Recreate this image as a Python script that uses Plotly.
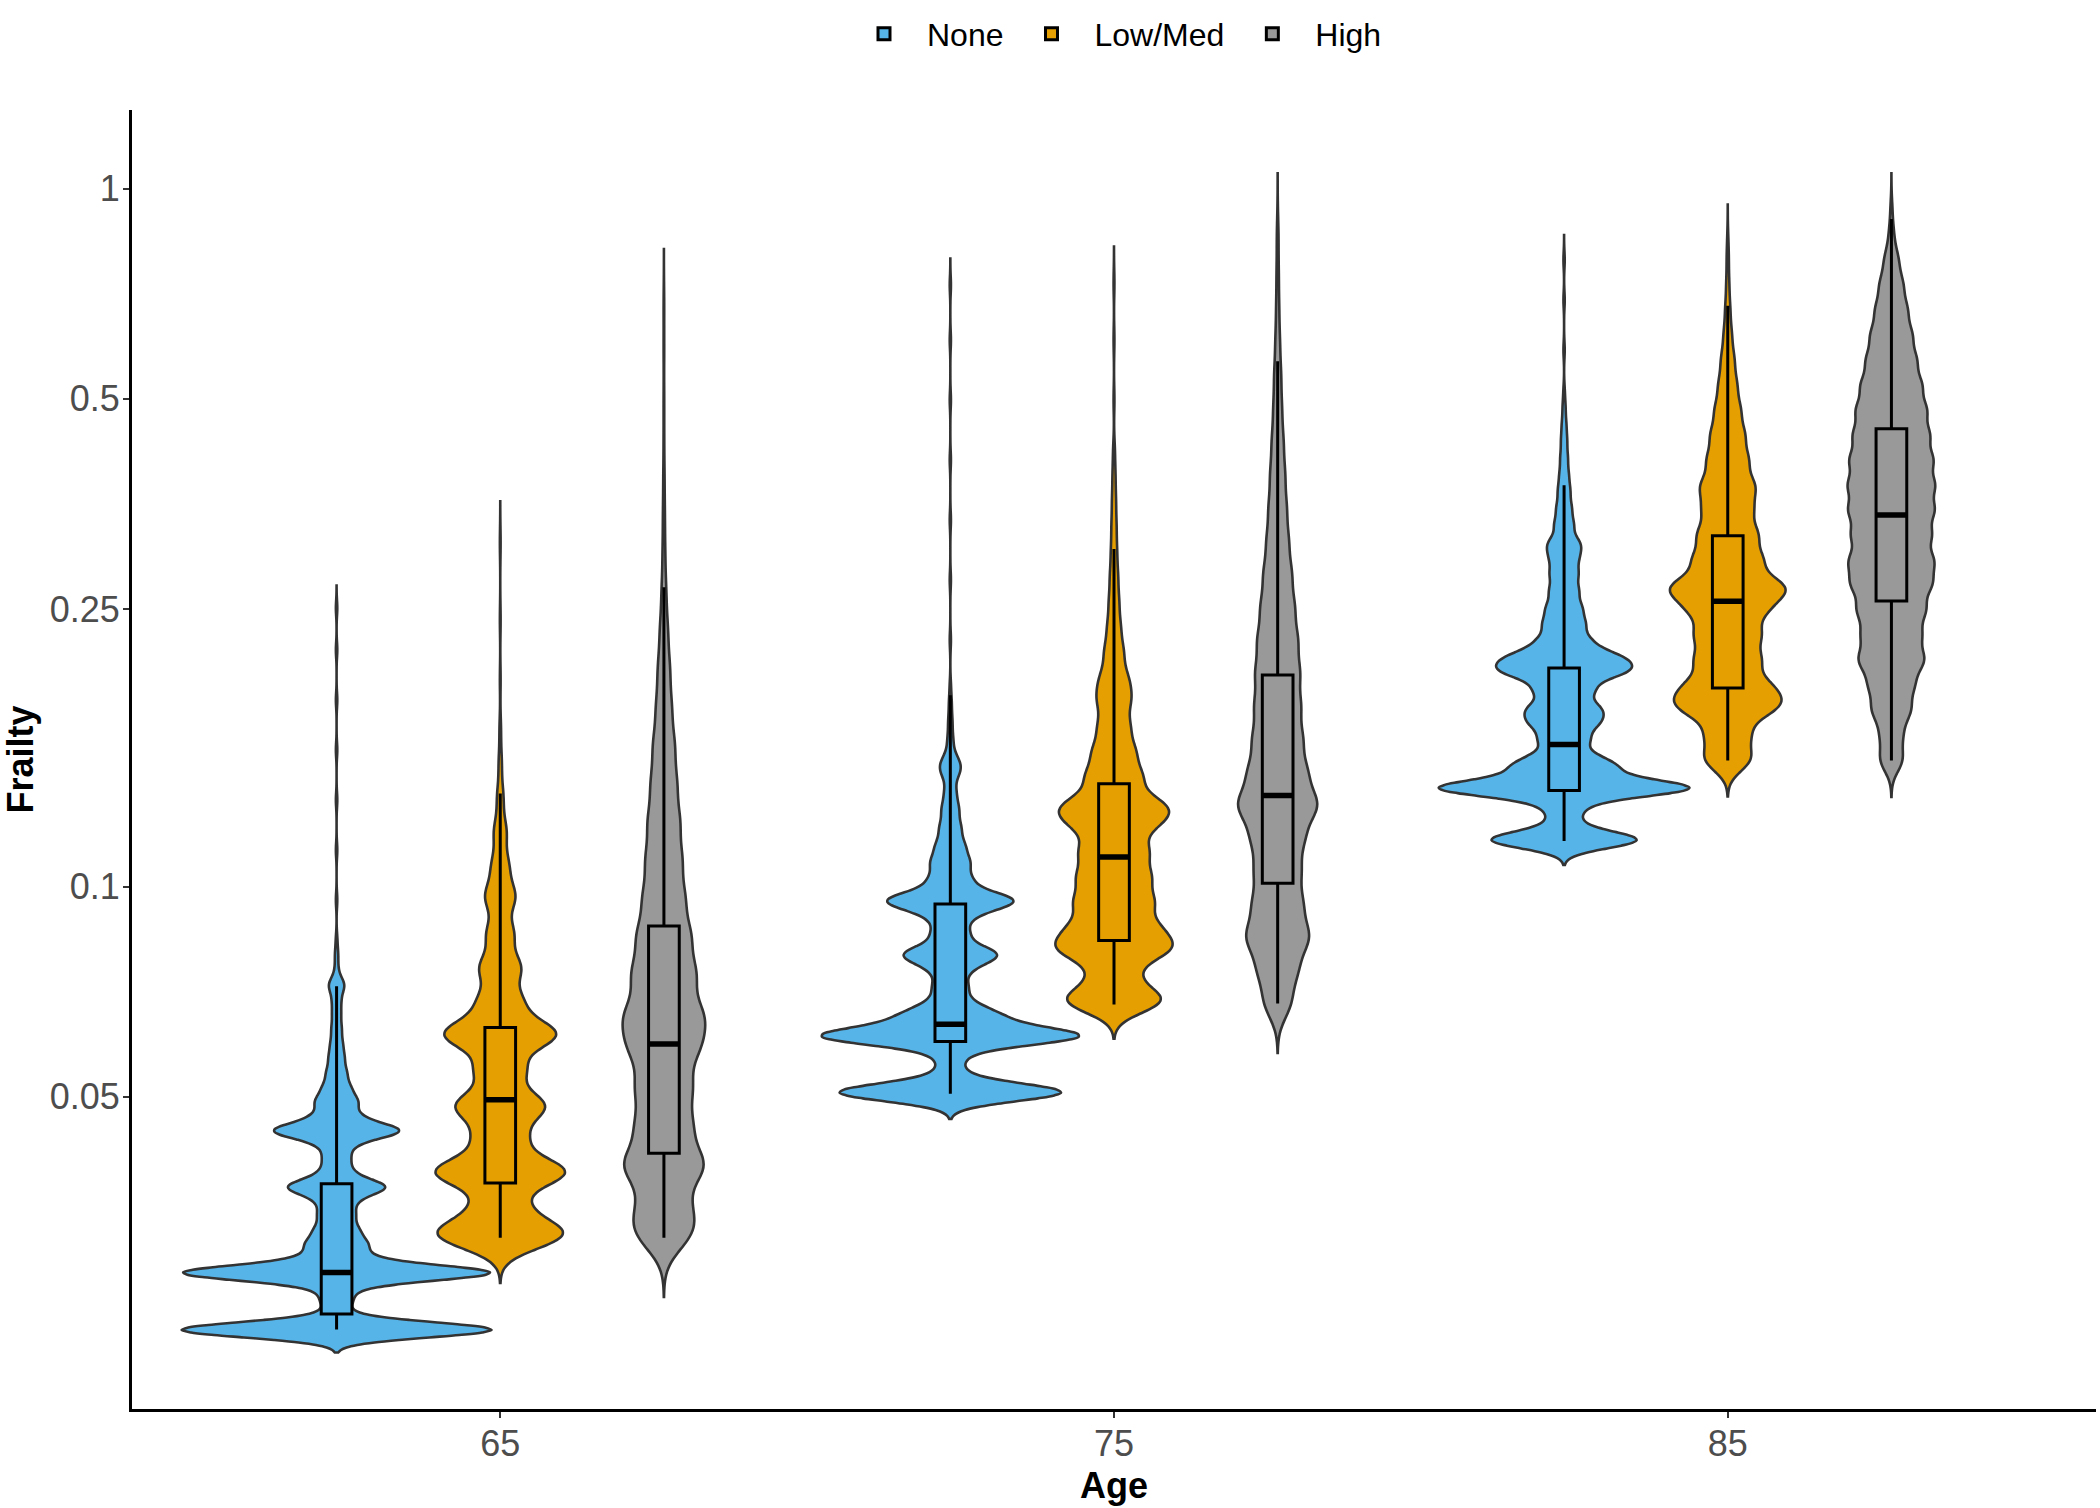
import numpy as np
import plotly.graph_objects as go

# ---------------- data ----------------
ages = [65, 75, 85]
groups = ["None", "Low/Med", "High"]

# Frailty levels (distinct values) and their frequencies, per group and age
none_65_frailty = [0.02316, 0.02425, 0.02548, 0.02669, 0.02795, 0.02936, 0.03074, 0.03220, 0.03383, 0.03543,
                   0.03711, 0.03887, 0.04070, 0.04263, 0.04465, 0.04675, 0.04912, 0.05145, 0.05406, 0.05680,
                   0.05948, 0.06250, 0.06567, 0.06878, 0.07228, 0.07596, 0.0798, 0.08385, 0.09568, 0.1128,
                   0.1331, 0.1570, 0.1851, 0.2184, 0.2507]
none_65_count = [219, 14, 18, 21, 211, 35, 35, 25, 21, 20,
                 63, 17, 15, 17, 82, 25, 25, 16, 12, 9,
                 7, 6, 5, 5, 10, 2, 2, 1, 1, 1,
                 1, 1, 1, 1, 1]

lowmed_65_frailty = [0.03116, 0.03189, 0.03485, 0.03899, 0.04362, 0.0485, 0.05460, 0.0614, 0.06833, 0.07645,
                     0.08553, 0.0966, 0.1070, 0.1197, 0.1340, 0.1499, 0.1676, 0.1978, 0.2411, 0.3108]
lowmed_65_count = [37, 128, 56, 169, 62, 114, 62, 145, 54, 52,
                   34, 38, 21, 16, 8, 4, 2, 1, 1, 1]

high_65_frailty = [0.03116, 0.03241, 0.03532, 0.0399, 0.04538, 0.05145, 0.05832, 0.0623, 0.06611, 0.07494,
                   0.08496, 0.09632, 0.1092, 0.1238, 0.1403, 0.1590, 0.1803, 0.2044, 0.2317, 0.2626,
                   0.2977, 0.3374, 0.3825, 0.4365, 0.4981, 0.5875, 0.6792]
high_65_count = [29, 59, 58, 124, 82, 82, 85, 37, 94, 94,
                 79, 61, 53, 47, 38, 32, 23, 18, 12, 7,
                 4, 3, 2, 1, 1, 1, 1]

none_75_frailty = [0.0507, 0.05370, 0.05698, 0.06028, 0.06107, 0.06397, 0.06525, 0.06789, 0.07179, 0.07620,
                   0.0800, 0.08553, 0.09076, 0.0955, 0.10186, 0.1081, 0.1143, 0.1213, 0.1288, 0.1362,
                   0.1445, 0.1489, 0.1533, 0.1622, 0.1722, 0.1827, 0.1932, 0.2256, 0.2750, 0.3352,
                   0.4087, 0.4981, 0.6071, 0.7281]
none_75_count = [182, 19, 19, 22, 184, 24, 51, 24, 24, 24,
                 70, 26, 27, 97, 30, 27, 20, 15, 12, 8,
                 7, 10, 5, 4, 3, 2, 1, 1, 1, 1,
                 1, 1, 1, 1]

lowmed_75_frailty = [0.0686, 0.07421, 0.08059, 0.08247, 0.08752, 0.09504, 0.1032, 0.1121, 0.1217, 0.1279,
                     0.1322, 0.1436, 0.1559, 0.1693, 0.1839, 0.1913, 0.1997, 0.2169, 0.2355, 0.2558,
                     0.2778, 0.3016, 0.3275, 0.3557, 0.3864, 0.4196, 0.4981, 0.6071, 0.7328]
lowmed_75_count = [104, 42, 67, 53, 77, 77, 71, 67, 58, 61,
                   56, 56, 42, 31, 27, 10, 23, 19, 13, 10,
                   8, 6, 5, 4, 3, 2, 1, 1, 1]

high_75_frailty = [0.06811, 0.07596, 0.08468, 0.09443, 0.1053, 0.1174, 0.1309, 0.1459, 0.1627, 0.1815,
                   0.2024, 0.2256, 0.2515, 0.2805, 0.3128, 0.3487, 0.3890, 0.4336, 0.4835, 0.5391,
                   0.6012, 0.6705, 0.7475, 0.8335, 0.8933]
high_75_count = [36, 51, 83, 63, 58, 66, 105, 74, 63, 58,
                 56, 51, 43, 36, 28, 23, 19, 15, 11, 9,
                 6, 4, 3, 2, 1]

none_85_frailty = [0.1166, 0.1233, 0.1301, 0.1383, 0.1455, 0.1484, 0.1533, 0.1622, 0.1710, 0.1762,
                   0.1809, 0.1913, 0.2017, 0.2050, 0.2133, 0.2249, 0.2378, 0.2507, 0.2652, 0.2805,
                   0.2957, 0.3100, 0.3298, 0.3487, 0.3689, 0.3890, 0.4113, 0.4351, 0.4586, 0.4852,
                   0.5114, 0.5875, 0.6928, 0.7907]
none_85_count = [112, 19, 26, 188, 31, 40, 33, 32, 36, 19,
                 36, 38, 38, 48, 67, 33, 27, 23, 19, 18,
                 17, 21, 13, 10, 8, 6, 5, 4, 3, 2,
                 1, 1, 1, 1]

lowmed_85_frailty = [0.1520, 0.1649, 0.1791, 0.1845, 0.1945, 0.2112, 0.2294, 0.2491, 0.2652, 0.2705,
                     0.2938, 0.3191, 0.3465, 0.3701, 0.3762, 0.4087, 0.4438, 0.4819, 0.5233, 0.5684,
                     0.6172, 0.6705, 0.7281, 0.7907, 0.8445]
lowmed_85_count = [47, 42, 58, 50, 69, 63, 63, 67, 52, 67,
                   67, 58, 46, 12, 42, 40, 33, 25, 18, 13,
                   8, 5, 3, 2, 1]

high_85_frailty = [0.1518, 0.1649, 0.1791, 0.1945, 0.2112, 0.2294, 0.2491, 0.2705, 0.2823, 0.2938,
                   0.3191, 0.3465, 0.3762, 0.4087, 0.4438, 0.4819, 0.5233, 0.5684, 0.6172, 0.6705,
                   0.7281, 0.7907, 0.8586, 0.9324]
high_85_count = [23, 21, 38, 43, 64, 56, 65, 72, 10, 75,
                 75, 81, 82, 79, 72, 67, 58, 48, 40, 31,
                 23, 14, 5, 2]

# KDE bandwidth (log10 frailty units), per group across ages 65/75/85
bandwidth_none = [0.0108, 0.0126, 0.0119]
bandwidth_lowmed = [0.0205, 0.0181, 0.0176]
bandwidth_high = [0.0272, 0.0238, 0.0176]

# Box-plot statistics (frailty), per group across ages 65/75/85
whisker_low_none = [0.0232, 0.0505, 0.1162]
q1_none = [0.0244, 0.0600, 0.1373]
median_none = [0.0280, 0.0635, 0.1598]
q3_none = [0.0375, 0.0944, 0.2057]
whisker_high_none = [0.0720, 0.188, 0.376]

whisker_low_lowmed = [0.0314, 0.0678, 0.1516]
q1_lowmed = [0.0376, 0.0837, 0.1926]
median_lowmed = [0.0495, 0.1103, 0.2564]
q3_lowmed = [0.0628, 0.1404, 0.3184]
whisker_high_lowmed = [0.136, 0.3047, 0.68]

whisker_low_high = [0.0314, 0.0680, 0.1516]
q1_high = [0.0415, 0.1011, 0.2566]
median_high = [0.0595, 0.1351, 0.3407]
q3_high = [0.0878, 0.201, 0.453]
whisker_high_high = [0.2685, 0.566, 0.905]

y_tick_values = [0.05, 0.1, 0.25, 0.5, 1]
y_tick_labels = ["0.05", "0.1", "0.25", "0.5", "1"]

# ---------------- styling ----------------
colors = {"None": "#56B4E9", "Low/Med": "#E69F00", "High": "#999999"}
dodge = 0.8 * 10 / 3
offsets = {"None": -dodge, "Low/Med": 0.0, "High": dodge}
MAX_VIOLIN_WIDTH = 5.05   # width (age units) of the widest violin
BOX_WIDTH = 0.5
FONT = "Liberation Sans, Arial, Helvetica, sans-serif"

samples = {
    ("None", 65): (none_65_frailty, none_65_count),
    ("None", 75): (none_75_frailty, none_75_count),
    ("None", 85): (none_85_frailty, none_85_count),
    ("Low/Med", 65): (lowmed_65_frailty, lowmed_65_count),
    ("Low/Med", 75): (lowmed_75_frailty, lowmed_75_count),
    ("Low/Med", 85): (lowmed_85_frailty, lowmed_85_count),
    ("High", 65): (high_65_frailty, high_65_count),
    ("High", 75): (high_75_frailty, high_75_count),
    ("High", 85): (high_85_frailty, high_85_count),
}
bandwidths = {"None": bandwidth_none, "Low/Med": bandwidth_lowmed, "High": bandwidth_high}
box_stats = {
    "None": (whisker_low_none, q1_none, median_none, q3_none, whisker_high_none),
    "Low/Med": (whisker_low_lowmed, q1_lowmed, median_lowmed, q3_lowmed, whisker_high_lowmed),
    "High": (whisker_low_high, q1_high, median_high, q3_high, whisker_high_high),
}


def kde_peak(y, bw, lo, hi):
    """Peak of the Gaussian KDE, evaluated like plotly's violin does."""
    n = int(np.ceil((hi - lo) / (bw / 3)))
    t = np.linspace(lo, hi, n + 1)
    d = np.exp(-0.5 * ((t[:, None] - y[None, :]) / bw) ** 2).sum(axis=1)
    return d.max() / (len(y) * bw * np.sqrt(2 * np.pi))


# log-scale samples; violin widths scaled by count (area proportional to n)
prepared = []
for g in groups:
    for i, a in enumerate(ages):
        vals, cnts = samples[(g, a)]
        y = np.log10(np.repeat(np.array(vals, dtype=float), np.array(cnts, dtype=int)))
        bw = bandwidths[g][i]
        span = [float(y.min() - 3 * bw), float(y.max() + 3 * bw)]
        prepared.append((g, a, y, bw, span, len(y) * kde_peak(y, bw, span[0], span[1])))
global_peak = max(p[-1] for p in prepared)

fig = go.Figure()

for g, a, y, bw, span, peak in prepared:
    fig.add_trace(go.Violin(
        x0=a + offsets[g], y=y, orientation="v",
        bandwidth=bw, spanmode="manual", span=span,
        width=MAX_VIOLIN_WIDTH * peak / global_peak,
        points=False, box_visible=False, meanline_visible=False,
        line=dict(color="#333333", width=2.6), fillcolor=colors[g],
        showlegend=False, hoverinfo="skip", name=g,
    ))

# boxes
for g in groups:
    lo, q1, med, q3, hi = box_stats[g]
    xs = [a + offsets[g] for a in ages]
    fig.add_trace(go.Box(
        x=xs, lowerfence=np.log10(lo), q1=np.log10(q1), median=np.log10(med),
        q3=np.log10(q3), upperfence=np.log10(hi),
        width=BOX_WIDTH, whiskerwidth=0, fillcolor=colors[g],
        line=dict(color="black", width=3), name=g, legendgroup=g, showlegend=True,
        hoverinfo="skip",
    ))
    lm = np.log10(med)
    fig.add_trace(go.Box(
        x=xs, lowerfence=lm, q1=lm, median=lm, q3=lm, upperfence=lm,
        width=BOX_WIDTH, whiskerwidth=0, fillcolor="black",
        line=dict(color="black", width=5.5), legendgroup=g, showlegend=False,
        hoverinfo="skip", name=g,
    ))

axis_common = dict(
    showline=True, linecolor="black", linewidth=3, mirror=False,
    showgrid=False, zeroline=False,
    ticks="outside", ticklen=6, tickwidth=1.6, tickcolor="#333333",
    tickfont=dict(size=36, color="#4D4D4D", family=FONT),
)

fig.update_layout(
    width=2100, height=1508,
    margin=dict(l=132, r=4, t=110, b=99),
    plot_bgcolor="white", paper_bgcolor="white",
    font=dict(family=FONT, color="black"),
    violinmode="overlay", boxmode="overlay",
    legend=dict(orientation="h", x=0.5, xanchor="center", y=1.0585, yanchor="middle",
                font=dict(size=32, color="black", family=FONT), traceorder="normal",
                itemwidth=76),
    xaxis=dict(type="linear", range=[59, 91], tickvals=ages, ticktext=[str(a) for a in ages],
               ticklabelstandoff=-5,
               title=dict(text="<b>Age</b>", font=dict(size=36, color="black"), standoff=10),
               **axis_common),
    yaxis=dict(type="linear", range=[float(np.log10(0.01784)), float(np.log10(1.297))],
               tickvals=list(np.log10(y_tick_values)), ticktext=y_tick_labels,
               ticklabelstandoff=-4,
               title=dict(text="<b>Frailty</b>", font=dict(size=36, color="black"), standoff=16),
               **axis_common),
)

fig.write_html("out.html", config={"displayModeBar": False},
               post_script="document.body.style.margin='0';")
